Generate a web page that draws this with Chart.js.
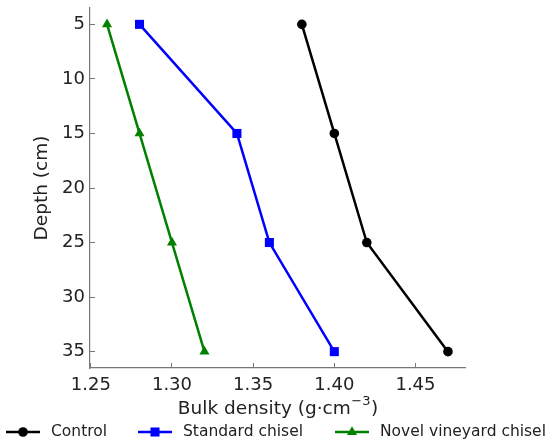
<!DOCTYPE html>
<html><head><meta charset="utf-8">
<script src="https://cdn.jsdelivr.net/npm/chart.js@4.4.1/dist/chart.umd.min.js"></script>
<style>html,body{margin:0;padding:0;background:#fff}#wrap{width:550px;height:446px}</style>
</head><body><div id="wrap"><canvas id="c" width="550" height="446"></canvas></div>
<script>
const depths = [5, 15, 25, 35];
const controlDensity = [1.38, 1.40, 1.42, 1.47];
const standardDensity = [1.28, 1.34, 1.36, 1.40];
const novelDensity = [1.26, 1.28, 1.30, 1.32];
const seriesNames = ['Control', 'Standard chisel', 'Novel vineyard chisel'];
const xTicks = [1.25, 1.30, 1.35, 1.40, 1.45];
const yTicks = [5, 10, 15, 20, 25, 30, 35];

const colors = ['#000000', '#0000ff', '#008000'];
const styles = ['circle', 'rect', 'triangle'];
const radii = [4.8, 6.4, 5.8];
const all = [controlDensity, standardDensity, novelDensity];

Chart.defaults.font.family = 'DejaVu Sans';
Chart.defaults.color = '#222';

const datasets = all.map((vals, i) => ({
  label: seriesNames[i],
  data: vals.map((v, j) => ({x: v, y: depths[j]})),
  borderColor: colors[i], backgroundColor: colors[i],
  borderWidth: 2.5, pointStyle: styles[i], pointRadius: radii[i],
  pointBorderWidth: 0, showLine: true, tension: 0
}));

const extrasPlugin = {
  id: 'extras',
  afterDraw(chart) {
    const ctx = chart.ctx;
    ctx.save();
    // x axis title with superscript
    const area = chart.chartArea;
    const cxTitle = (area.left + area.right) / 2;
    const yT = 409;
    const main = 'Bulk density (g·cm', sup = '−3', close = ')';
    ctx.textBaseline = 'middle'; ctx.textAlign = 'left'; ctx.fillStyle = '#222';
    ctx.font = '18.5px "DejaVu Sans"';
    const w1 = ctx.measureText(main).width, w3 = ctx.measureText(close).width;
    ctx.font = '13px "DejaVu Sans"';
    const w2 = ctx.measureText(sup).width;
    let x = cxTitle - (w1 + w2 + w3) / 2;
    ctx.font = '18.5px "DejaVu Sans"';
    ctx.fillText(main, x, yT); x += w1;
    ctx.font = '13px "DejaVu Sans"';
    ctx.fillText(sup, x + 0.5, yT - 7); x += w2 + 1;
    ctx.font = '18.5px "DejaVu Sans"';
    ctx.fillText(close, x, yT);
    // legend
    const y = 432;
    const items = [{x0: 6, tx: 51}, {x0: 138, tx: 183}, {x0: 335, tx: 380}];
    items.forEach((it, i) => {
      ctx.strokeStyle = colors[i]; ctx.lineWidth = 2.5;
      ctx.beginPath(); ctx.moveTo(it.x0, y); ctx.lineTo(it.x0 + 34, y); ctx.stroke();
      ctx.fillStyle = colors[i];
      ctx.beginPath();
      const cx = it.x0 + 17, r = radii[i];
      if (styles[i] === 'circle') { ctx.arc(cx, y, r, 0, Math.PI*2); }
      else if (styles[i] === 'rect') { const s = r*Math.SQRT1_2; ctx.rect(cx-s, y-s, 2*s, 2*s); }
      else { ctx.moveTo(cx, y - r); ctx.lineTo(cx - r*0.866, y + r*0.5); ctx.lineTo(cx + r*0.866, y + r*0.5); ctx.closePath(); }
      ctx.fill();
      ctx.fillStyle = '#222'; ctx.font = '15.5px "DejaVu Sans"';
      ctx.textBaseline = 'middle'; ctx.textAlign = 'left';
      ctx.fillText(seriesNames[i], it.tx, y);
    });
    ctx.restore();
  }
};

new Chart(document.getElementById('c'), {
  type: 'scatter',
  data: {datasets},
  options: {
    responsive: false, animation: false, devicePixelRatio: 1,
    layout: {padding: {left: 0, right: 85, top: 8, bottom: 18}},
    plugins: {legend: {display: false}, tooltip: {enabled: false}},
    scales: {
      x: {
        type: 'linear', min: 1.2495, max: 1.4805,
        afterBuildTicks: s => { s.ticks = xTicks.map(v => ({value: v})); },
        afterFit: s => { s.height = 60; s.paddingLeft = 0; s.paddingRight = 0; },
        grid: {drawOnChartArea: false, drawTicks: true, tickLength: -5, color: '#777', lineWidth: 1},
        border: {color: '#777', width: 1.2},
        ticks: {padding: 12, font: {size: 18}, color: '#222', callback: v => v.toFixed(2)},
        title: {display: false}
      },
      y: {
        type: 'linear', reverse: true, min: 3.5, max: 36.5,
        afterBuildTicks: s => { s.ticks = yTicks.map(v => ({value: v})); },
        afterFit: s => { s.width = 90; s.paddingTop = 0; s.paddingBottom = 0; },
        grid: {drawOnChartArea: false, drawTicks: true, tickLength: -5, color: '#777', lineWidth: 1},
        border: {color: '#777', width: 1.2},
        ticks: {padding: 10, font: {size: 18}, color: '#222'},
        title: {display: true, text: 'Depth (cm)', font: {size: 18.5}, color: '#222', padding: {top: 31, bottom: 0}}
      }
    }
  },
  plugins: [extrasPlugin]
});
</script></body></html>
